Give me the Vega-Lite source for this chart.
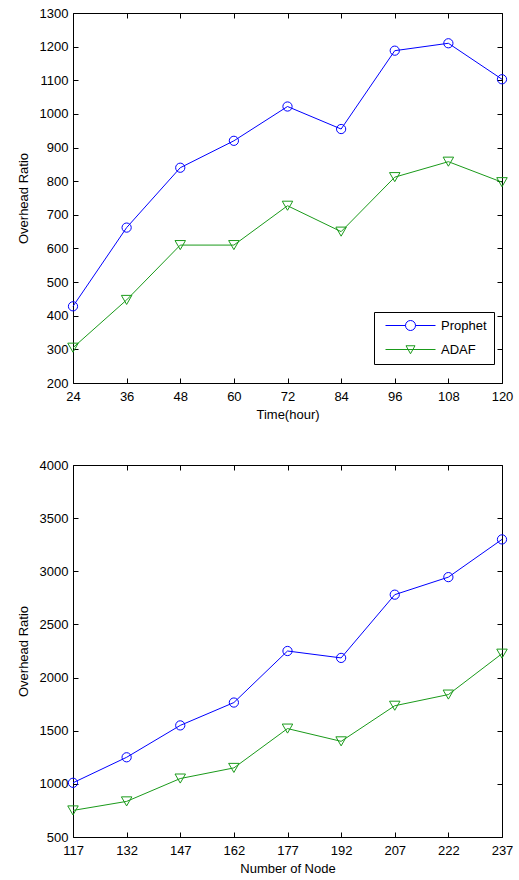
{
  "$schema": "https://vega.github.io/schema/vega-lite/v6.json",
  "padding": {"top": 6, "left": 13, "right": 5, "bottom": 2},
  "background": "white",
  "spacing": 36,
  "config": {
    "view": {"stroke": "black", "strokeWidth": 1},
    "axis": {
      "domain": false, "grid": false, "tickSize": -5, "tickColor": "black", "tickWidth": 1,
      "labelFont": "Liberation Sans", "labelFontSize": 13, "labelColor": "black", "format": "d",
      "labelFlush": false, "labelOverlap": false, "labelBound": false,
      "titleFont": "Liberation Sans", "titleFontSize": 13, "titleFontWeight": "normal", "titleColor": "black"
    },
    "legend": {
      "labelFont": "Liberation Sans", "labelFontSize": 13, "labelColor": "black",
      "strokeColor": "black", "fillColor": "white", "padding": 7
    }
  },
  "datasets": {
    "time": [
      {"x": 24, "series": "Prophet", "y": 428}, {"x": 36, "series": "Prophet", "y": 662},
      {"x": 48, "series": "Prophet", "y": 840}, {"x": 60, "series": "Prophet", "y": 920},
      {"x": 72, "series": "Prophet", "y": 1022}, {"x": 84, "series": "Prophet", "y": 955},
      {"x": 96, "series": "Prophet", "y": 1188}, {"x": 108, "series": "Prophet", "y": 1210},
      {"x": 120, "series": "Prophet", "y": 1103},
      {"x": 24, "series": "ADAF", "y": 305}, {"x": 36, "series": "ADAF", "y": 447},
      {"x": 48, "series": "ADAF", "y": 610}, {"x": 60, "series": "ADAF", "y": 610},
      {"x": 72, "series": "ADAF", "y": 727}, {"x": 84, "series": "ADAF", "y": 650},
      {"x": 96, "series": "ADAF", "y": 812}, {"x": 108, "series": "ADAF", "y": 858},
      {"x": 120, "series": "ADAF", "y": 797}
    ],
    "node": [
      {"x": 117, "series": "Prophet", "y": 1010}, {"x": 132, "series": "Prophet", "y": 1250},
      {"x": 147, "series": "Prophet", "y": 1550}, {"x": 162, "series": "Prophet", "y": 1765},
      {"x": 177, "series": "Prophet", "y": 2250}, {"x": 192, "series": "Prophet", "y": 2185},
      {"x": 207, "series": "Prophet", "y": 2780}, {"x": 222, "series": "Prophet", "y": 2945},
      {"x": 237, "series": "Prophet", "y": 3300},
      {"x": 117, "series": "ADAF", "y": 750}, {"x": 132, "series": "ADAF", "y": 835},
      {"x": 147, "series": "ADAF", "y": 1050}, {"x": 162, "series": "ADAF", "y": 1150},
      {"x": 177, "series": "ADAF", "y": 1520}, {"x": 192, "series": "ADAF", "y": 1400},
      {"x": 207, "series": "ADAF", "y": 1735}, {"x": 222, "series": "ADAF", "y": 1840},
      {"x": 237, "series": "ADAF", "y": 2225}
    ]
  },
  "vconcat": [
    {
      "width": 429, "height": 370,
      "data": {"name": "time"},
      "resolve": {"axis": {"x": "independent", "y": "independent"}},
      "layer": [
        {
          "mark": {"type": "line", "strokeWidth": 1},
          "encoding": {
            "x": {"field": "x", "type": "quantitative",
                  "scale": {"domain": [24, 120], "nice": false, "zero": false},
                  "axis": {"orient": "bottom", "values": [24, 36, 48, 60, 72, 84, 96, 108, 120], "title": "Time(hour)", "labelPadding": 12, "titlePadding": 5}},
            "y": {"field": "y", "type": "quantitative",
                  "scale": {"domain": [200, 1300], "nice": false, "zero": false},
                  "axis": {"orient": "left", "values": [200, 300, 400, 500, 600, 700, 800, 900, 1000, 1100, 1200, 1300], "title": "Overhead Ratio", "labelPadding": 10, "titlePadding": 9}},
            "color": {"field": "series", "type": "nominal",
                      "scale": {"domain": ["Prophet", "ADAF"], "range": ["#0000ff", "#1a9a1a"]},
                      "legend": {
                        "title": null, "orient": "none", "legendX": 301, "legendY": 299,
                        "symbolSize": 100, "symbolOffset": 23, "labelOffset": 24, "rowPadding": 10,
                        "encode": {"symbols": {"update": {
                          "shape": {"signal": "datum.value === 'Prophet' ? 'M-5,0H-1M1,0H5M-1,0A1,1,0,1,0,1,0A1,1,0,1,0,-1,0Z' : 'M-5,0H5M-0.9,-0.75H0.9L0,0.85Z'"},
                          "fill": {"value": "transparent"},
                          "strokeWidth": {"value": 1}
                        }}}
                      }}
          }
        },
        {
          "transform": [{"filter": "datum.series === 'Prophet'"}],
          "mark": {"type": "point", "shape": "circle", "filled": false, "strokeWidth": 1, "opacity": 1, "color": "#0000ff", "size": 85},
          "encoding": {
            "x": {"field": "x", "type": "quantitative",
                  "axis": {"orient": "top", "values": [24, 36, 48, 60, 72, 84, 96, 108, 120], "labels": false, "title": null}},
            "y": {"field": "y", "type": "quantitative",
                  "axis": {"orient": "right", "values": [200, 300, 400, 500, 600, 700, 800, 900, 1000, 1100, 1200, 1300], "labels": false, "title": null}}
          }
        },
        {
          "transform": [{"filter": "datum.series === 'ADAF'"}],
          "mark": {"type": "point", "shape": "triangle-down", "filled": false, "strokeWidth": 1, "opacity": 1, "color": "#1a9a1a", "size": 110},
          "encoding": {
            "x": {"field": "x", "type": "quantitative", "axis": null},
            "y": {"field": "y", "type": "quantitative", "axis": null}
          }
        }
      ]
    },
    {
      "width": 429, "height": 372,
      "data": {"name": "node"},
      "resolve": {"axis": {"x": "independent", "y": "independent"}},
      "layer": [
        {
          "mark": {"type": "line", "strokeWidth": 1},
          "encoding": {
            "x": {"field": "x", "type": "quantitative",
                  "scale": {"domain": [117, 237], "nice": false, "zero": false},
                  "axis": {"orient": "bottom", "values": [117, 132, 147, 162, 177, 192, 207, 222, 237], "title": "Number of Node", "labelPadding": 12, "titlePadding": 5}},
            "y": {"field": "y", "type": "quantitative",
                  "scale": {"domain": [500, 4000], "nice": false, "zero": false},
                  "axis": {"orient": "left", "values": [500, 1000, 1500, 2000, 2500, 3000, 3500, 4000], "title": ["", "Overhead Ratio"], "titleLineHeight": 3, "labelPadding": 10, "titlePadding": 9}},
            "color": {"field": "series", "type": "nominal",
                      "scale": {"domain": ["Prophet", "ADAF"], "range": ["#0000ff", "#1a9a1a"]},
                      "legend": {
                        "title": null, "orient": "none", "legendX": 308, "legendY": 11,
                        "symbolSize": 100, "symbolOffset": 23, "labelOffset": 24, "rowPadding": 10,
                        "encode": {"symbols": {"update": {
                          "shape": {"signal": "datum.value === 'Prophet' ? 'M-5,0H-1M1,0H5M-1,0A1,1,0,1,0,1,0A1,1,0,1,0,-1,0Z' : 'M-5,0H5M-0.9,-0.75H0.9L0,0.85Z'"},
                          "fill": {"value": "transparent"},
                          "strokeWidth": {"value": 1}
                        }}}
                      }}
          }
        },
        {
          "transform": [{"filter": "datum.series === 'Prophet'"}],
          "mark": {"type": "point", "shape": "circle", "filled": false, "strokeWidth": 1, "opacity": 1, "color": "#0000ff", "size": 85},
          "encoding": {
            "x": {"field": "x", "type": "quantitative",
                  "axis": {"orient": "top", "values": [117, 132, 147, 162, 177, 192, 207, 222, 237], "labels": false, "title": null}},
            "y": {"field": "y", "type": "quantitative",
                  "axis": {"orient": "right", "values": [500, 1000, 1500, 2000, 2500, 3000, 3500, 4000], "labels": false, "title": null}}
          }
        },
        {
          "transform": [{"filter": "datum.series === 'ADAF'"}],
          "mark": {"type": "point", "shape": "triangle-down", "filled": false, "strokeWidth": 1, "opacity": 1, "color": "#1a9a1a", "size": 110},
          "encoding": {
            "x": {"field": "x", "type": "quantitative", "axis": null},
            "y": {"field": "y", "type": "quantitative", "axis": null}
          }
        }
      ]
    }
  ]
}
